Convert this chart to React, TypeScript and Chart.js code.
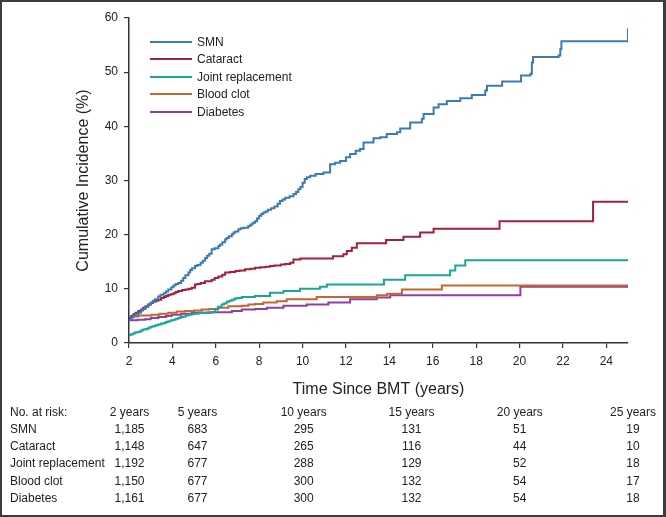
import React, { useEffect, useRef } from "react";
import { Chart, registerables } from "chart.js";

Chart.register(...registerables);

// ---- Data ----
const seriesLabels = ["SMN", "Cataract", "Joint replacement", "Blood clot", "Diabetes"];
const seriesColors = ["#3b7bb5", "#a3213b", "#1aa59b", "#c6662c", "#913e9d"];

const smnTimes = [2.0, 2.1, 2.2, 2.3, 2.43, 2.55, 2.65, 2.75, 2.89, 3.0, 3.1, 3.2, 3.35, 3.45, 3.6, 3.7, 3.81, 3.95, 4.05, 4.15, 4.27, 4.4, 4.5, 4.6, 4.74, 4.82, 4.9, 5.04, 5.15, 5.3, 5.4, 5.51, 5.6, 5.7, 5.81, 5.95, 6.12, 6.2, 6.3, 6.43, 6.5, 6.6, 6.74, 6.82, 6.9, 7.04, 7.15, 7.3, 7.5, 7.6, 7.7, 7.81, 7.9, 8.0, 8.1, 8.19, 8.3, 8.4, 8.55, 8.7, 8.85, 8.96, 9.08, 9.2, 9.4, 9.58, 9.7, 9.8, 9.9, 10.0, 10.1, 10.2, 10.35, 10.6, 10.96, 11.27, 11.5, 11.73, 12.0, 12.19, 12.45, 12.65, 12.81, 13.27, 13.58, 13.88, 14.35, 14.5, 14.96, 15.5, 15.58, 16.04, 16.27, 16.65, 17.27, 17.8, 18.42, 18.5, 19.2, 20.07, 20.5, 20.57, 20.62, 21.8, 21.88, 21.93, 25.0];
const smnValues = [4.3, 4.7, 5.0, 5.3, 5.6, 6.0, 6.3, 6.7, 7.1, 7.5, 7.8, 8.1, 8.6, 8.9, 9.2, 9.5, 9.9, 10.3, 10.6, 10.9, 11.1, 11.5, 12.0, 12.5, 13.0, 13.5, 13.8, 14.2, 14.4, 14.8, 15.2, 15.7, 16.1, 16.5, 17.3, 17.5, 17.9, 18.2, 18.6, 19.1, 19.4, 19.7, 20.1, 20.4, 20.6, 21.0, 21.2, 21.3, 21.6, 21.9, 22.2, 22.5, 23.0, 23.5, 23.8, 24.1, 24.3, 24.6, 24.9, 25.2, 25.7, 26.2, 26.5, 26.8, 27.1, 27.5, 27.9, 28.4, 28.8, 29.6, 30.3, 30.6, 30.9, 31.2, 31.5, 33.0, 33.3, 33.6, 34.3, 34.9, 35.5, 35.8, 37.0, 37.8, 38.0, 38.6, 38.9, 39.6, 40.7, 41.4, 42.3, 43.5, 44.1, 44.7, 45.2, 45.8, 46.6, 47.5, 48.3, 49.4, 49.7, 51.8, 52.8, 53.1, 54.3, 55.7, 58.1];

const cataractTimes = [2.0, 2.1, 2.2, 2.3, 2.43, 2.55, 2.65, 2.77, 2.89, 3.0, 3.1, 3.22, 3.35, 3.48, 3.6, 3.7, 3.81, 3.93, 4.05, 4.15, 4.27, 4.45, 4.6, 4.75, 4.89, 5.04, 5.15, 5.3, 5.5, 5.81, 5.95, 6.12, 6.3, 6.43, 6.65, 6.9, 7.1, 7.35, 7.6, 7.81, 8.05, 8.3, 8.5, 8.7, 9.0, 9.2, 9.43, 9.58, 9.9, 11.4, 11.88, 12.04, 12.27, 12.5, 13.85, 14.65, 15.42, 16.04, 19.08, 23.39, 25.0];
const cataractValues = [4.6, 5.0, 5.3, 5.6, 5.9, 6.2, 6.5, 6.8, 7.1, 7.4, 7.6, 7.8, 8.0, 8.3, 8.5, 8.7, 8.9, 9.0, 9.2, 9.4, 9.6, 9.8, 9.9, 10.0, 10.2, 10.8, 10.9, 11.1, 11.4, 11.7, 12.0, 12.3, 12.6, 13.0, 13.1, 13.3, 13.4, 13.6, 13.7, 13.9, 14.0, 14.1, 14.2, 14.3, 14.5, 14.6, 14.8, 15.4, 15.6, 16.0, 16.4, 17.0, 17.6, 18.4, 19.0, 19.6, 20.4, 21.1, 22.5, 26.1, 26.1];

const jointTimes = [2.0, 2.1, 2.2, 2.3, 2.43, 2.55, 2.65, 2.77, 2.89, 3.0, 3.1, 3.22, 3.35, 3.48, 3.6, 3.7, 3.81, 3.93, 4.05, 4.15, 4.27, 4.38, 4.5, 4.62, 4.74, 4.87, 5.0, 5.2, 5.66, 5.96, 6.1, 6.27, 6.38, 6.5, 6.62, 6.74, 6.87, 7.0, 7.2, 7.81, 8.5, 9.12, 9.88, 10.8, 11.12, 13.75, 14.73, 16.8, 17.04, 17.5, 25.0];
const jointValues = [1.5, 1.6, 1.8, 2.0, 2.1, 2.3, 2.5, 2.6, 2.8, 3.0, 3.1, 3.3, 3.4, 3.6, 3.7, 3.9, 4.0, 4.2, 4.3, 4.5, 4.6, 4.8, 4.9, 5.1, 5.2, 5.3, 5.4, 5.6, 5.7, 6.2, 6.7, 7.1, 7.3, 7.6, 7.8, 8.0, 8.2, 8.3, 8.5, 8.7, 9.3, 9.6, 10.0, 10.4, 10.8, 11.7, 12.5, 13.4, 14.3, 15.3, 15.3];

const clotTimes = [2.0, 2.1, 2.2, 2.43, 3.04, 3.4, 3.81, 4.2, 4.58, 5.0, 5.35, 5.7, 6.12, 6.58, 7.2, 7.5, 7.81, 8.19, 8.81, 9.27, 10.65, 13.42, 13.9, 14.58, 16.42, 25.0];
const clotValues = [4.6, 4.8, 4.9, 5.1, 5.2, 5.4, 5.6, 5.8, 5.9, 6.0, 6.2, 6.3, 6.5, 6.8, 6.9, 7.1, 7.2, 7.5, 7.7, 8.1, 8.5, 8.8, 9.1, 9.9, 10.6, 10.6];

const diabetesTimes = [2.0, 2.4, 2.74, 3.0, 3.35, 3.7, 3.96, 4.4, 4.89, 5.81, 6.74, 7.2, 7.81, 8.35, 9.12, 10.19, 11.19, 12.19, 13.42, 14.04, 20.04, 25.0];
const diabetesValues = [4.2, 4.3, 4.4, 4.6, 4.8, 5.0, 5.2, 5.4, 5.6, 5.7, 5.9, 6.2, 6.3, 6.5, 6.9, 7.1, 7.5, 8.1, 8.4, 8.8, 10.4, 10.4];

const xTicks = [2, 4, 6, 8, 10, 12, 14, 16, 18, 20, 22, 24];
const yTicks = [0, 10, 20, 30, 40, 50, 60];

const riskTitle = "No. at risk:";
const riskHeaders = ["2 years", "5 years", "10 years", "15 years", "20 years", "25 years"];
const riskSMN = ["1,185", "683", "295", "131", "51", "19"];
const riskCataract = ["1,148", "647", "265", "116", "44", "10"];
const riskJoint = ["1,192", "677", "288", "129", "52", "18"];
const riskClot = ["1,150", "677", "300", "132", "54", "17"];
const riskDiabetes = ["1,161", "677", "300", "132", "54", "18"];

// ---- Layout (not data) ----
const FONT = "'Liberation Sans', Arial, Helvetica, sans-serif";
const TEXT = "#222";
const W = 666;
const H = 517;
const riskColCenters = [129.5, 197.5, 303.7, 411.5, 519.8, 633];
const riskRowCenters = [411.7, 428.5, 446, 463.4, 480.8, 498.3];
const legendRowCenters = [41.7, 59.3, 76.7, 94.3, 111.7];

const seriesTimes = [smnTimes, cataractTimes, jointTimes, clotTimes, diabetesTimes];
const seriesValues = [smnValues, cataractValues, jointValues, clotValues, diabetesValues];
const riskRows = [riskSMN, riskCataract, riskJoint, riskClot, riskDiabetes];

export default function App() {
  const canvasRef = useRef<HTMLCanvasElement | null>(null);

  useEffect(() => {
    const canvas = canvasRef.current;
    if (!canvas) return;
    const datasets = seriesLabels.map((label, i) => ({
      label,
      data: seriesTimes[i].map((t, j) => ({ x: t, y: seriesValues[i][j] })),
      borderColor: seriesColors[i],
      backgroundColor: seriesColors[i],
      borderWidth: 2,
      pointRadius: 0,
      stepped: true as const,
      fill: false,
    }));
    const chart = new Chart(canvas, {
      type: "line",
      data: { datasets },
      options: {
        responsive: false,
        animation: false,
        devicePixelRatio: 1,
        layout: { padding: { top: 18, right: 38, left: 0, bottom: 0 } },
        plugins: { legend: { display: false }, tooltip: { enabled: false } },
        scales: {
          x: {
            type: "linear",
            min: 2,
            max: 25,
            afterBuildTicks: (s: any) => {
              s.ticks = xTicks.map((v) => ({ value: v }));
            },
            afterFit: (s: any) => {
              s.height = 174;
            },
            grid: { drawOnChartArea: false, drawTicks: true, tickLength: 5, color: "#333", lineWidth: 1.2 },
            border: { color: "#333", width: 1.5 },
            ticks: { font: { family: FONT, size: 12 }, color: TEXT, padding: 6, maxRotation: 0, autoSkip: false },
            title: {
              display: true,
              text: "Time Since BMT (years)",
              font: { family: FONT, size: 16 },
              color: TEXT,
              padding: { top: 0, bottom: 118 },
            },
          },
          y: {
            type: "linear",
            min: 0,
            max: 60,
            afterBuildTicks: (s: any) => {
              s.ticks = yTicks.map((v) => ({ value: v }));
            },
            afterFit: (s: any) => {
              s.width = 129;
            },
            grid: { drawOnChartArea: false, drawTicks: true, tickLength: 5, color: "#333", lineWidth: 1.2 },
            border: { color: "#333", width: 1.5 },
            ticks: { font: { family: FONT, size: 12 }, color: TEXT, padding: 6 },
            title: {
              display: true,
              text: "Cumulative Incidence (%)",
              font: { family: FONT, size: 16 },
              color: TEXT,
              padding: { top: 74, bottom: 0 },
            },
          },
        },
      },
    });
    return () => chart.destroy();
  }, []);

  const cell = (text: string, x: number, y: number, center: boolean, key: string) => (
    <div
      key={key}
      style={{
        position: "absolute",
        left: x,
        top: y - 7,
        height: 14,
        lineHeight: "14px",
        transform: center ? "translateX(-50%)" : undefined,
        whiteSpace: "nowrap",
      }}
    >
      {text}
    </div>
  );

  return (
    <div
      style={{
        position: "absolute",
        left: 0,
        top: 0,
        width: W,
        height: H,
        background: "#fff",
        fontFamily: FONT,
        fontSize: 12,
        color: TEXT,
        overflow: "hidden",
      }}
    >
      <canvas ref={canvasRef} width={W} height={H} style={{ position: "absolute", left: 0, top: 0, width: W, height: H }} />
      {/* legend */}
      {seriesLabels.map((label, i) => (
        <React.Fragment key={"lg" + i}>
          <div
            style={{
              position: "absolute",
              left: 150,
              top: legendRowCenters[i] - 1,
              width: 42,
              height: 2,
              background: seriesColors[i],
            }}
          />
          {cell(label, 197, legendRowCenters[i], false, "lt" + i)}
        </React.Fragment>
      ))}
      {/* risk table */}
      {cell(riskTitle, 10, riskRowCenters[0], false, "rt")}
      {riskHeaders.map((h, j) => cell(h, riskColCenters[j], riskRowCenters[0], true, "rh" + j))}
      {riskRows.map((row, i) => (
        <React.Fragment key={"rr" + i}>
          {cell(seriesLabels[i], 10, riskRowCenters[i + 1], false, "rl" + i)}
          {row.map((v, j) => cell(v, riskColCenters[j], riskRowCenters[i + 1], true, "rv" + i + "_" + j))}
        </React.Fragment>
      ))}
      <div
        style={{
          position: "absolute",
          left: 0,
          top: 0,
          width: W,
          height: H,
          boxSizing: "border-box",
          border: "2px solid #3c3c3c",
          borderRight: "3px solid #3c3c3c",
          pointerEvents: "none",
        }}
      />
    </div>
  );
}
